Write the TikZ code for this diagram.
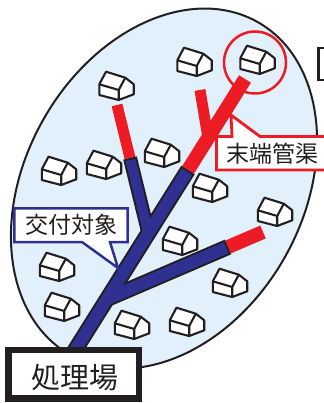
\documentclass[tikz,border=0pt]{standalone}
\usepackage{fontspec}
\newfontfamily\jpfont{Noto Sans CJK JP}
\usetikzlibrary{positioning}
\definecolor{areablue}{RGB}{225, 240, 250}
\definecolor{pipeblue}{RGB}{46, 49, 146}
\definecolor{pipered}{RGB}{237, 28, 36}
\definecolor{inkblack}{RGB}{35, 31, 32}

\begin{document}
\begin{tikzpicture}[
    x=1pt, y=-1pt,
    hut/.pic={
        \filldraw[fill=white, draw=inkblack, line width=2.1pt, line join=round]
            (-17.2,-1.7) -- (-10.5,-14.3) -- (8.8,-8.3) -- (17.2,-1.7) -- (17.2,8.3) -- (2.2,14) -- (-17.2,9) -- cycle;
        \draw[inkblack, line width=2.1pt, line join=round] (-17.2,-1.7) -- (2.2,4) -- (8.8,-8.3) (2.2,4) -- (2.2,14);
    },
    redpipe/.style={line width=#1, color=pipered},
    shell/.style={line width=#1, color=inkblack},
    core/.style={line width=#1, color=pipeblue},
    tag/.style={font=\jpfont\fontsize{23}{23}\selectfont, text=inkblack, inner sep=0pt}
]
    \useasboundingbox (0,0) rectangle (323,403);

    % service area
    \coordinate (zone) at (164,188.5);
    \filldraw[fill=areablue, draw=inkblack, line width=2pt, rotate around={60.7:(zone)}]
        (zone) ellipse [x radius=191, y radius=139];

    % cut-off label on the right
    \filldraw[fill=white, draw=inkblack, line width=2.5pt] (318.3,48) rectangle (345,80);

    \pic (hut1) at (116.5,86) {hut};
    \pic (hut2) at (194.5,62) {hut};
    \pic (hut3) at (257.5,60) {hut};
    \pic (hut4) at (59,171) {hut};
    \pic (hut5) at (104,165) {hut};
    \pic (hut6) at (162,153) {hut};
    \pic (hut7) at (210,188) {hut};
    \pic (hut8) at (275,212) {hut};
    \pic (hut9) at (180,241) {hut};
    \pic (hut10) at (57,267) {hut};
    \pic (hut11) at (230,283) {hut};
    \pic (hut12) at (62,307) {hut};
    \pic (hut13) at (132,325) {hut};
    \pic (hut14) at (187,322) {hut};

    % pipe network points
    \coordinate (outfall) at (60,374);
    \coordinate (trunkJoint) at (188,170);
    \coordinate (trunkEnd) at (245,79);
    \coordinate (forkEnd) at (200,90);
    \coordinate (forkBase) at (208,138);
    \coordinate (leftEnd) at (117,105);
    \coordinate (leftJoint) at (130,158);
    \coordinate (leftBase) at (148.4,233);
    \coordinate (rightBase) at (107,299);
    \coordinate (rightJoint) at (228,247);
    \coordinate (rightEnd) at (263,232);

    % end pipes (red)
    \draw[redpipe=11pt] (forkEnd) -- (forkBase);
    \draw[redpipe=11pt] (leftEnd) -- (leftJoint);
    \draw[redpipe=14pt] (trunkEnd) -- (trunkJoint);
    \draw[redpipe=14pt] (rightEnd) -- (rightJoint);

    % subsidised pipes (blue, outlined)
    \draw[shell=14pt] (leftJoint) -- (leftBase);
    \draw[shell=16pt] (rightJoint) -- (rightBase);
    \draw[shell=16pt] (trunkJoint) -- (outfall);
    \draw[core=10pt, shorten <=2pt] (leftJoint) -- (leftBase);
    \draw[core=12pt, shorten <=2pt] (rightJoint) -- (rightBase);
    \draw[core=12pt, shorten <=2pt] (trunkJoint) -- (outfall);

    % end house marker
    \coordinate (ring) at (255,62.5);
    \draw[pipered, line width=2.5pt] (ring) circle [radius=31];

    % callouts
    \coordinate (subsidyTip) at (118,268);
    \filldraw[fill=white, draw=pipeblue, line width=2.5pt]
        (14.3,208.3) -- (127.7,208.3) -- (127.7,242) -- (110,242) -- (subsidyTip) -- (82,242) -- (14.3,242) -- cycle;
    \node[tag] (subsidy) at (71,225) {交付対象};

    \coordinate (terminalTip) at (231,115);
    \filldraw[fill=white, draw=pipered, line width=2.8pt]
        (216.5,136.5) -- (232,136.5) -- (terminalTip) -- (260,136.5) -- (340,136.5) -- (340,170) -- (216.5,170) -- cycle;
    \node[tag] (terminal) at (272,154) {末端管渠};

    % treatment plant
    \filldraw[fill=white, draw=inkblack, line width=6.5pt] (8.3,350) rectangle (139,398.3);
    \node[tag, font=\jpfont\fontsize{29}{29}\selectfont] (plant) at (75,378) {処理場};
\end{tikzpicture}
\end{document}
